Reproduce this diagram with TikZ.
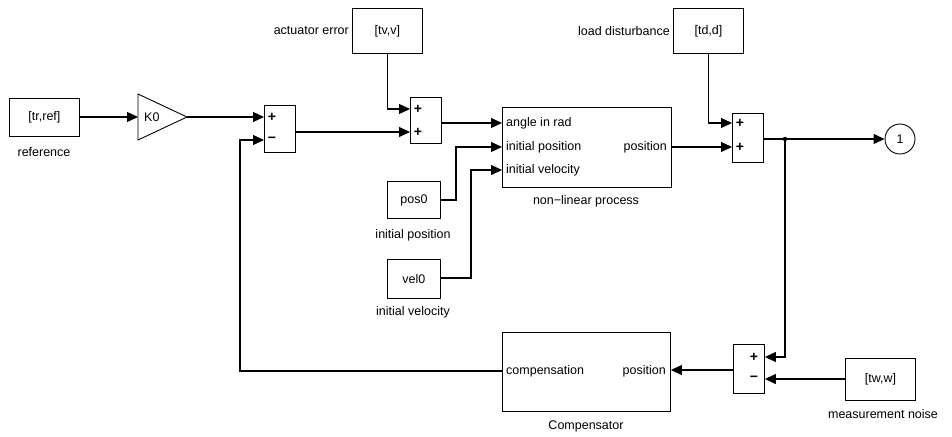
\documentclass[tikz,border=0pt]{standalone}
\usepackage{fontspec}
\setmainfont{Liberation Sans}
\usetikzlibrary{arrows.meta,calc}

\begin{document}
\begin{tikzpicture}[x=1pt,y=-1pt,
  font=\fontsize{12.5}{14}\selectfont,
  blk/.style={draw, rectangle, line width=0.9pt, inner sep=0pt, anchor=north west},
  sumblk/.style={blk, minimum width=31pt},
  sig/.style={line width=1.1pt, -{Triangle[length=11pt,width=10pt]}},
  wire/.style={line width=1.1pt},
  lbl/.style={inner sep=0pt},
  sgn/.style={inner sep=0pt, font=\fontsize{14}{14}\selectfont\bfseries}]

\useasboundingbox (0,0) rectangle (952,436);

% ---- source blocks ----
\node[blk, minimum width=70pt, minimum height=38pt] (ref) at (9,98) {[tr,ref]};
\node[lbl] (reflbl) at (44,152) {reference};

\node[blk, minimum width=70pt, minimum height=45pt] (tv) at (352,8) {[tv,v]};
\node[lbl, anchor=east] (tvlbl) at (349,31) {actuator error};

\node[blk, minimum width=70pt, minimum height=45pt] (td) at (673,8) {[td,d]};
\node[lbl, anchor=east] (tdlbl) at (670,31) {load disturbance};

\node[blk, minimum width=53pt, minimum height=37pt] (pos) at (387,181) {pos0};
\node[lbl] (poslbl) at (413,235) {initial position};

\node[blk, minimum width=53pt, minimum height=39pt] (vel) at (387,259) {vel0};
\node[lbl] (vellbl) at (413,312) {initial velocity};

\node[blk, minimum width=70pt, minimum height=42pt] (tw) at (845,358) {[tw,w]};
\node[lbl] (twlbl) at (883,414) {measurement noise};

% ---- gain ----
\coordinate (gin) at (138,117);
\coordinate (gtip) at (187,117);
\draw[line width=0.9pt] (138,94) -- (gtip) -- (138,140) -- cycle;
\node[lbl, anchor=west] (gain) at (144,117) {K0};

% ---- sums ----
\node[sumblk, minimum height=47pt] (s1) at (264,105) {};
\node[sgn] (s1a) at (272,117) {+};
\node[sgn] (s1b) at (272,140) {−};

\node[sumblk, minimum height=46pt] (s2) at (410,97) {};
\node[sgn] (s2a) at (418,109) {+};
\node[sgn] (s2b) at (418,132) {+};

\node[sumblk, minimum height=49pt] (s3) at (732,113) {};
\node[sgn] (s3a) at (740,123) {+};
\node[sgn] (s3b) at (740,147) {+};

\node[sumblk, minimum height=49pt] (s4) at (733,344) {};
\node[sgn] (s4a) at (754,357) {+};
\node[sgn] (s4b) at (754,379) {−};

% ---- process ----
\node[blk, minimum width=169pt, minimum height=80pt] (proc) at (502,107) {};
\node[lbl, anchor=west] (pa) at (506,123) {angle in rad};
\node[lbl, anchor=west] (pb) at (506,147) {initial position};
\node[lbl, anchor=west] (pc) at (506,170) {initial velocity};
\node[lbl, anchor=east] (pout) at (667,147) {position};
\node[lbl] (proclbl) at (586,201) {non−linear process};

% ---- compensator ----
\node[blk, minimum width=168pt, minimum height=79pt] (comp) at (502,332) {};
\node[lbl, anchor=west] (ca) at (506,371) {compensation};
\node[lbl, anchor=east] (cb) at (666,371) {position};
\node[lbl] (complbl) at (586,426) {Compensator};

% ---- output port ----
\node[draw, circle, line width=0.9pt, minimum size=30pt, inner sep=0pt] (out) at (900,139) {1};
\coordinate (jn) at (785,139);
\fill (jn) circle (2.2pt);

% ---- signals ----
\draw[sig] (ref.east |- gin) -- (gin);
\draw[sig] (gtip) -- (s1.west |- gtip);
\draw[sig] (s1.east |- 0,132) -- (s2.west |- 0,132);
\draw[sig] (tv.south) |- (s2.west |- 0,109);
\draw[sig] (s2.east |- 0,123) -- (proc.west |- 0,123);
\draw[sig] (pos.east |- 0,200) -| (456,147) -- (proc.west |- 0,147);
\draw[sig] (vel.east |- 0,278) -| (471,170) -- (proc.west |- 0,170);
\draw[sig] (td.south) |- (s3.west |- 0,123);
\draw[sig] (proc.east |- 0,147) -- (s3.west |- 0,147);
\draw[wire] (s3.east |- jn) -- (jn);
\draw[sig] (jn) -- (out.west);
\draw[sig] (jn) |- (s4.east |- 0,357);
\draw[sig] (tw.west |- 0,379) -- (s4.east |- 0,379);
\draw[sig] (s4.west |- 0,370) -- (comp.east |- 0,370);
\draw[sig] (comp.west |- 0,371) -| (240,140) -- (s1.west |- 0,140);
\end{tikzpicture}
\end{document}
